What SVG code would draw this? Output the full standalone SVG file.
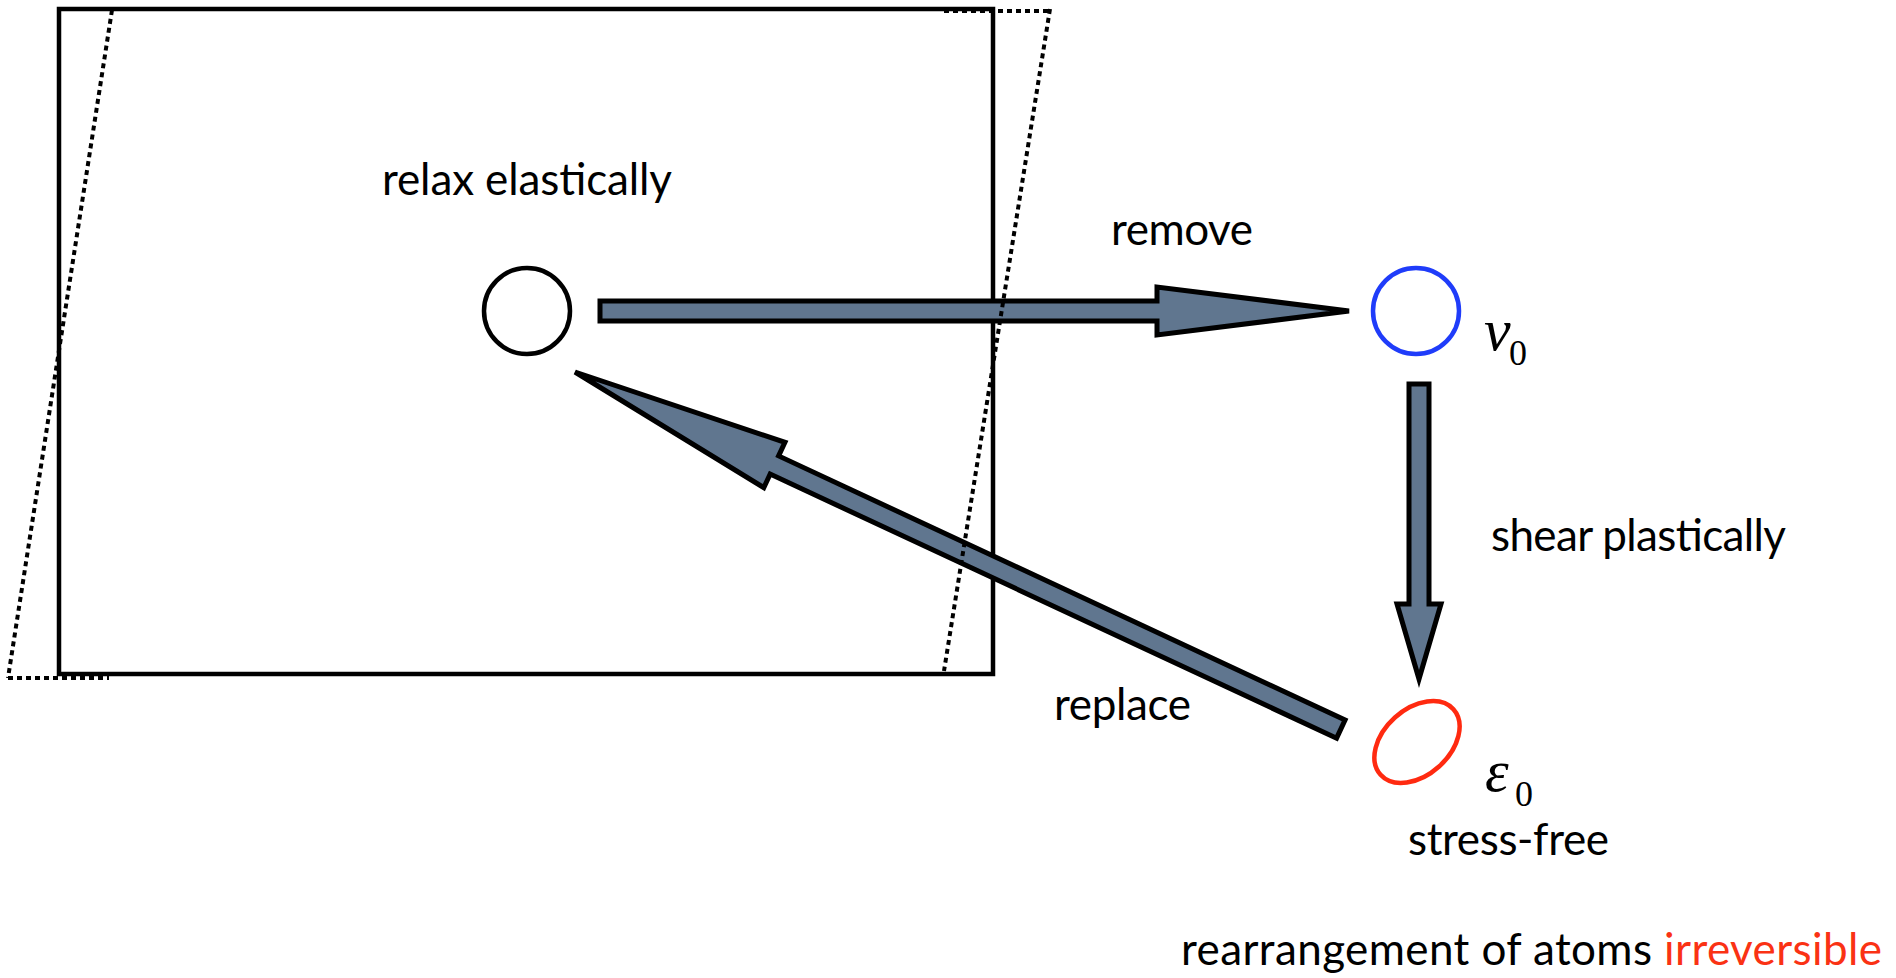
<svg xmlns="http://www.w3.org/2000/svg" width="1896" height="978" viewBox="0 0 1896 978">
  <style>
    .label { font-family: Lato, "Open Sans", "Liberation Sans", sans-serif; font-size: 44px; fill: #000; }
    .math { font-family: "Liberation Serif", "DejaVu Serif", serif; font-style: italic; font-size: 60px; fill: #000; }
    .sub { font-family: "Liberation Serif", "DejaVu Serif", serif; font-size: 36px; fill: #000; }
    .solid { fill: none; stroke: #000; stroke-width: 4.5; }
    .dotted { fill: none; stroke: #000; stroke-width: 4; stroke-dasharray: 5 4; }
    .arrow { fill: #60768f; stroke: #000; stroke-width: 5; stroke-linejoin: miter; }
  </style>

  <!-- matrix block -->
  <g id="block">
    <rect class="solid" x="59" y="9" width="934" height="665"/>
  </g>

  <!-- the inclusion site inside the block -->
  <g id="site">
    <circle class="solid" cx="527" cy="311" r="43"/>
  </g>

  <!-- removed volume -->
  <g id="removed">
    <circle cx="1416" cy="311" r="43" fill="none" stroke="#1f3cfa" stroke-width="4.5"/>
    <text class="math" x="1484" y="350">v</text>
    <text class="sub" x="1509" y="365">0</text>
  </g>

  <!-- plastically sheared inclusion -->
  <g id="sheared">
    <ellipse cx="1417" cy="742" rx="49" ry="33" transform="rotate(-42 1417 742)" fill="none" stroke="#ff2a10" stroke-width="4.5"/>
    <text class="math" x="1485" y="791" font-size="64">ε</text>
    <text class="sub" x="1515" y="806">0</text>
  </g>

  <g id="connectors">
    <!-- remove -->
    <path class="arrow" d="M600,301 L1157,301 L1157,287 L1349,311 L1157,335 L1157,321 L600,321 Z"/>
    <!-- shear plastically -->
    <path class="arrow" d="M1409,384 L1429,384 L1429,604 L1441,604 L1419,679 L1397,604 L1409,604 Z"/>
    <!-- replace -->
    <path class="arrow" transform="translate(575 372) rotate(25)" d="M0,0 L220,-25 L220,-10 L845,-10 L845,10 L220,10 L220,25 Z"/>
  </g>

  <!-- sheared outline of the block, drawn over the arrows -->
  <g id="sheared-outline">
    <line class="dotted" x1="112" y1="10" x2="8" y2="678"/>
    <line class="dotted" x1="1050" y1="9" x2="944" y2="671"/>
    <line class="dotted" x1="944" y1="11" x2="1050" y2="11"/>
    <line class="dotted" x1="8" y1="678" x2="109" y2="678"/>
  </g>

  <g id="labels">
    <text class="label" x="382" y="195" textLength="290" lengthAdjust="spacing">relax elastically</text>
    <text class="label" x="1111" y="245" textLength="142" lengthAdjust="spacing">remove</text>
    <text class="label" x="1491" y="551" textLength="295" lengthAdjust="spacing">shear plastically</text>
    <text class="label" x="1054" y="720" textLength="137" lengthAdjust="spacing">replace</text>
    <text class="label" x="1408" y="855" textLength="201" lengthAdjust="spacing">stress-free</text>
    <text class="label" x="1181" y="965" textLength="701" lengthAdjust="spacing">rearrangement of atoms <tspan fill="#fa3214">irreversible</tspan></text>
  </g>
</svg>
